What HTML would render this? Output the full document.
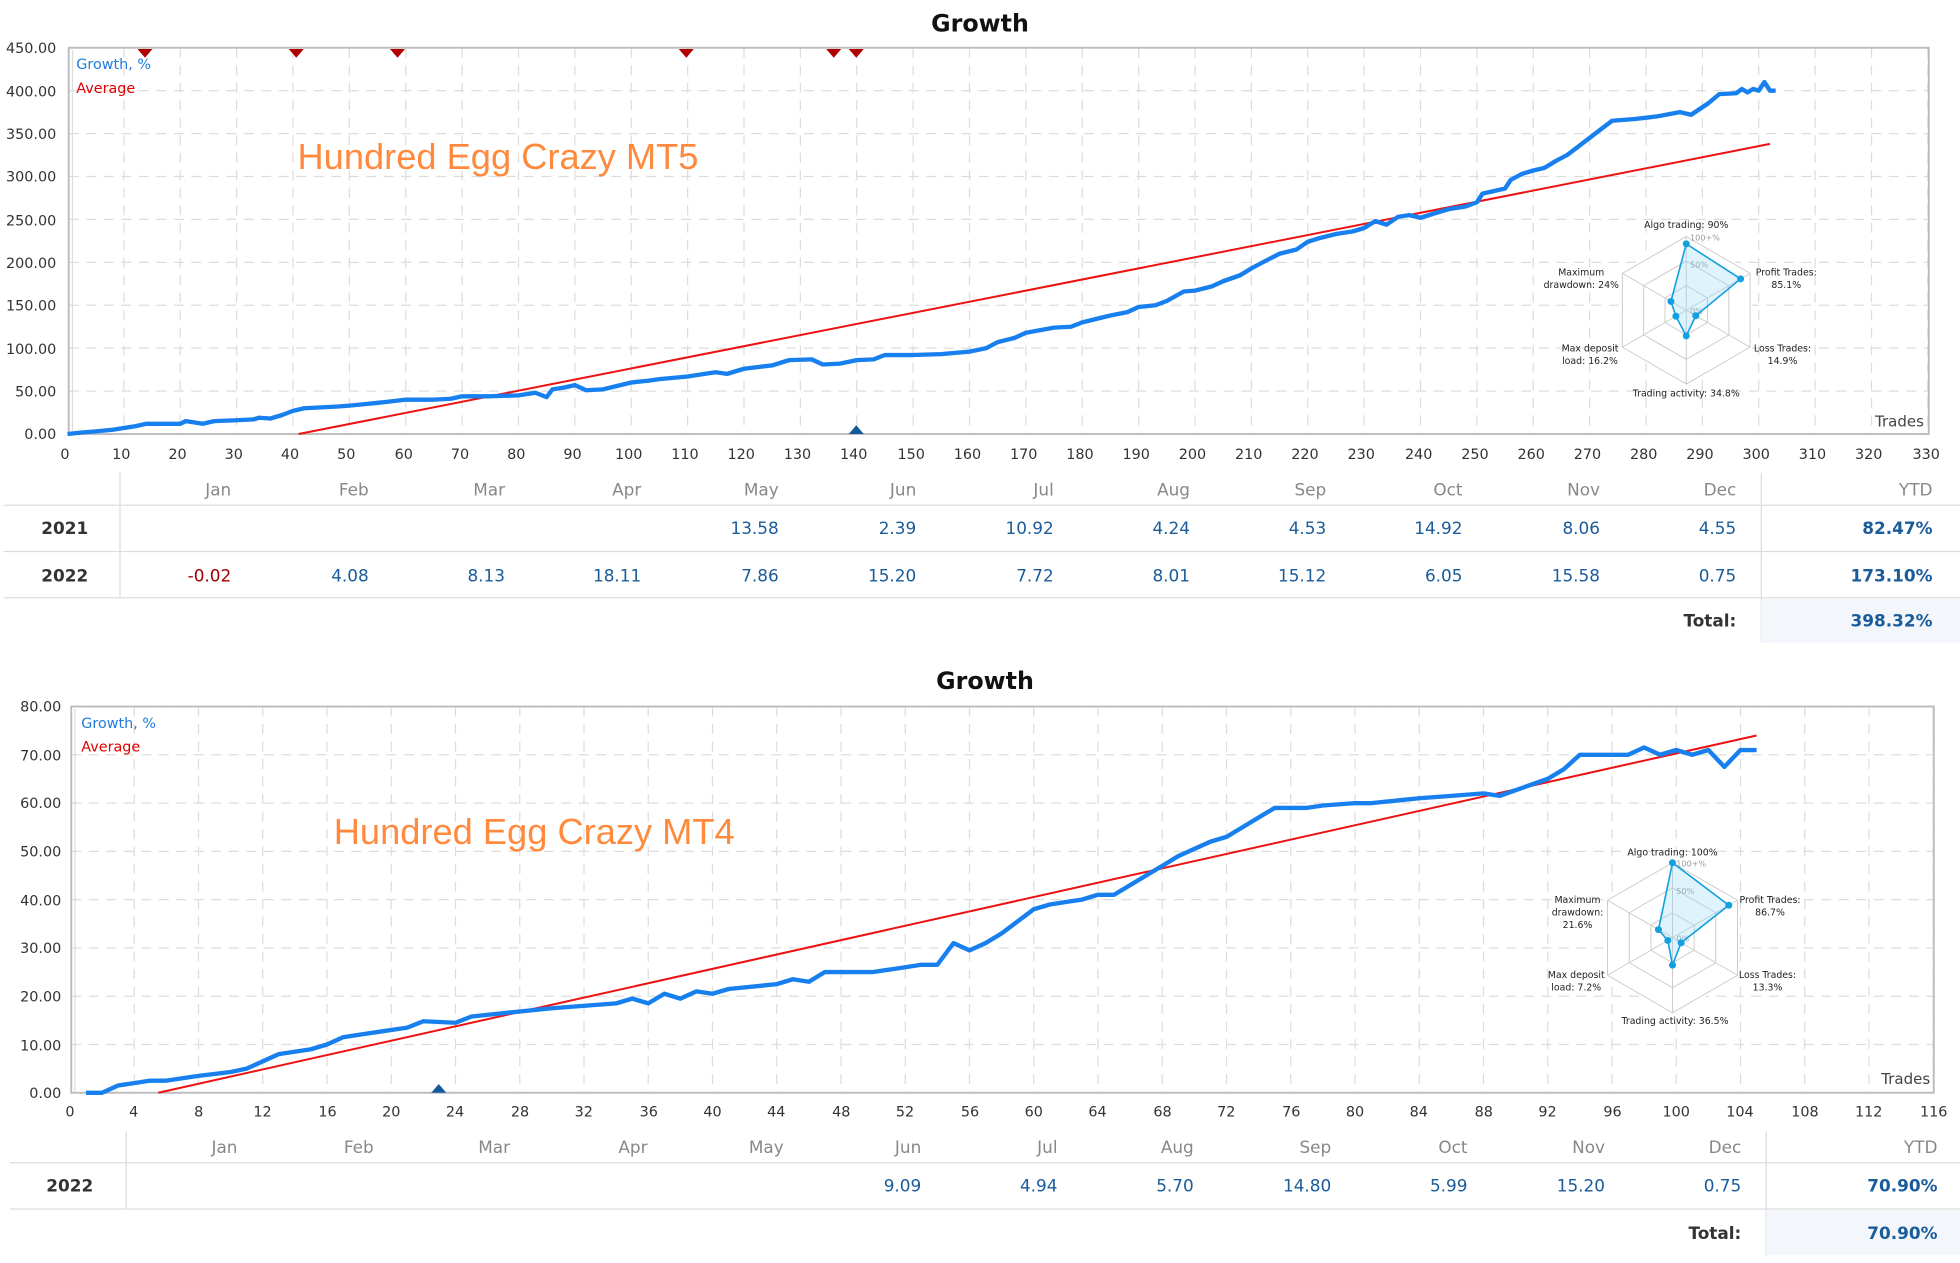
<!DOCTYPE html>
<html><head><meta charset="utf-8"><style>
html,body{margin:0;padding:0;background:#fff;}
svg{display:block}
text{font-family:"DejaVu Sans","Liberation Sans",sans-serif;}
.tk{font-size:11.5px;fill:#333;}
.yl{font-size:11.5px;fill:#333;text-anchor:end;}
.xl{font-size:11.5px;fill:#333;text-anchor:middle;}
.ttl{font-size:19px;font-weight:bold;fill:#111;text-anchor:middle;}
.mh{font-size:13.5px;fill:#888;text-anchor:end;}
.v{font-size:13.5px;fill:#1a5c9a;text-anchor:end;}
.vr{font-size:13.5px;fill:#a00000;text-anchor:end;}
.yr{font-size:13.5px;font-weight:bold;fill:#333;}
.yb{font-size:13.5px;font-weight:bold;fill:#1a5c9a;text-anchor:end;}
.rl{font-size:7.5px;fill:#222;text-anchor:middle;}
.big{font-size:29px;fill:#ff8a3d;font-family:"Liberation Sans",sans-serif;}
</style></head><body>
<svg id="s" width="1960" height="1263" viewBox="0 0 1568 1010" xmlns="http://www.w3.org/2000/svg">
<g id="g1"></g>
<!-- Chart 1 -->
<text class="ttl" x="784" y="25">Growth</text>
<g>
<text class="yl" x="45" y="42">450.00</text>
<text class="yl" x="45" y="77">400.00</text>
<text class="yl" x="45" y="111">350.00</text>
<text class="yl" x="45" y="145">300.00</text>
<text class="yl" x="45" y="180">250.00</text>
<text class="yl" x="45" y="214">200.00</text>
<text class="yl" x="45" y="248">150.00</text>
<text class="yl" x="45" y="283">100.00</text>
<text class="yl" x="45" y="317">50.00</text>
<text class="yl" x="45" y="351">0.00</text>
</g>
<g>
<text class="xl" x="52" y="367">0</text><text class="xl" x="97" y="367">10</text><text class="xl" x="142" y="367">20</text><text class="xl" x="187" y="367">30</text><text class="xl" x="232" y="367">40</text><text class="xl" x="277" y="367">50</text><text class="xl" x="323" y="367">60</text><text class="xl" x="368" y="367">70</text><text class="xl" x="413" y="367">80</text><text class="xl" x="458" y="367">90</text><text class="xl" x="503" y="367">100</text><text class="xl" x="548" y="367">110</text><text class="xl" x="593" y="367">120</text><text class="xl" x="638" y="367">130</text><text class="xl" x="683" y="367">140</text><text class="xl" x="729" y="367">150</text><text class="xl" x="774" y="367">160</text><text class="xl" x="819" y="367">170</text><text class="xl" x="864" y="367">180</text><text class="xl" x="909" y="367">190</text><text class="xl" x="954" y="367">200</text><text class="xl" x="999" y="367">210</text><text class="xl" x="1044" y="367">220</text><text class="xl" x="1089" y="367">230</text><text class="xl" x="1135" y="367">240</text><text class="xl" x="1180" y="367">250</text><text class="xl" x="1225" y="367">260</text><text class="xl" x="1270" y="367">270</text><text class="xl" x="1315" y="367">280</text><text class="xl" x="1360" y="367">290</text><text class="xl" x="1405" y="367">300</text><text class="xl" x="1450" y="367">310</text><text class="xl" x="1495" y="367">320</text><text class="xl" x="1541" y="367">330</text>
</g>
<text x="61" y="55" style="font-size:11.5px;fill:#1e7be0">Growth, %</text>
<text x="61" y="74" style="font-size:11.5px;fill:#e00000">Average</text>
<text class="big" x="238" y="135">Hundred Egg Crazy MT5</text>
<text x="1500" y="341" style="font-size:12px;fill:#444">Trades</text>
<g id="r1"></g>
<text class="rl" x="1349" y="182">Algo trading: 90%</text>
<text class="rl" x="1429" y="220">Profit Trades:</text><text class="rl" x="1429" y="230">85.1%</text>
<text class="rl" x="1426" y="281">Loss Trades:</text><text class="rl" x="1426" y="291">14.9%</text>
<text class="rl" x="1349" y="317">Trading activity: 34.8%</text>
<text class="rl" x="1272" y="281">Max deposit</text><text class="rl" x="1272" y="291">load: 16.2%</text>
<text class="rl" x="1265" y="220">Maximum</text><text class="rl" x="1265" y="230">drawdown: 24%</text>
<!-- Table 1 -->
<line x1="96" y1="378" x2="96" y2="478" stroke="#ddd"/>
<line x1="1409" y1="378" x2="1409" y2="514" stroke="#ddd"/>
<rect x="1409" y="479" width="159" height="35" fill="#f3f6fb"/>
<line x1="3" y1="404" x2="1568" y2="404" stroke="#ddd"/>
<line x1="3" y1="441" x2="1568" y2="441" stroke="#ddd"/>
<line x1="3" y1="478" x2="1568" y2="478" stroke="#ddd"/>
<g>
<text class="mh" x="185" y="396">Jan</text><text class="mh" x="295" y="396">Feb</text><text class="mh" x="404" y="396">Mar</text><text class="mh" x="513" y="396">Apr</text><text class="mh" x="623" y="396">May</text><text class="mh" x="733" y="396">Jun</text><text class="mh" x="843" y="396">Jul</text><text class="mh" x="952" y="396">Aug</text><text class="mh" x="1061" y="396">Sep</text><text class="mh" x="1170" y="396">Oct</text><text class="mh" x="1280" y="396">Nov</text><text class="mh" x="1389" y="396">Dec</text><text class="mh" x="1546" y="396">YTD</text>
<text class="yr" x="33" y="427">2021</text>
<text class="v" x="623" y="427">13.58</text><text class="v" x="733" y="427">2.39</text><text class="v" x="843" y="427">10.92</text><text class="v" x="952" y="427">4.24</text><text class="v" x="1061" y="427">4.53</text><text class="v" x="1170" y="427">14.92</text><text class="v" x="1280" y="427">8.06</text><text class="v" x="1389" y="427">4.55</text><text class="yb" x="1546" y="427">82.47%</text>
<text class="yr" x="33" y="465">2022</text>
<text class="vr" x="185" y="465">-0.02</text><text class="v" x="295" y="465">4.08</text><text class="v" x="404" y="465">8.13</text><text class="v" x="513" y="465">18.11</text><text class="v" x="623" y="465">7.86</text><text class="v" x="733" y="465">15.20</text><text class="v" x="843" y="465">7.72</text><text class="v" x="952" y="465">8.01</text><text class="v" x="1061" y="465">15.12</text><text class="v" x="1170" y="465">6.05</text><text class="v" x="1280" y="465">15.58</text><text class="v" x="1389" y="465">0.75</text><text class="yb" x="1546" y="465">173.10%</text>
<text class="yr" x="1389" y="501" style="text-anchor:end">Total:</text><text class="yb" x="1546" y="501">398.32%</text>
</g>
<!-- Chart 2 -->
<text class="ttl" x="788" y="551">Growth</text>
<g>
<text class="yl" x="49" y="569">80.00</text>
<text class="yl" x="49" y="608">70.00</text>
<text class="yl" x="49" y="646">60.00</text>
<text class="yl" x="49" y="685">50.00</text>
<text class="yl" x="49" y="724">40.00</text>
<text class="yl" x="49" y="762">30.00</text>
<text class="yl" x="49" y="801">20.00</text>
<text class="yl" x="49" y="840">10.00</text>
<text class="yl" x="49" y="878">0.00</text>
</g>
<g>
<text class="xl" x="56" y="893">0</text><text class="xl" x="107" y="893">4</text><text class="xl" x="159" y="893">8</text><text class="xl" x="210" y="893">12</text><text class="xl" x="262" y="893">16</text><text class="xl" x="313" y="893">20</text><text class="xl" x="364" y="893">24</text><text class="xl" x="416" y="893">28</text><text class="xl" x="467" y="893">32</text><text class="xl" x="519" y="893">36</text><text class="xl" x="570" y="893">40</text><text class="xl" x="621" y="893">44</text><text class="xl" x="673" y="893">48</text><text class="xl" x="724" y="893">52</text><text class="xl" x="776" y="893">56</text><text class="xl" x="827" y="893">60</text><text class="xl" x="878" y="893">64</text><text class="xl" x="930" y="893">68</text><text class="xl" x="981" y="893">72</text><text class="xl" x="1033" y="893">76</text><text class="xl" x="1084" y="893">80</text><text class="xl" x="1135" y="893">84</text><text class="xl" x="1187" y="893">88</text><text class="xl" x="1238" y="893">92</text><text class="xl" x="1290" y="893">96</text><text class="xl" x="1341" y="893">100</text><text class="xl" x="1392" y="893">104</text><text class="xl" x="1444" y="893">108</text><text class="xl" x="1495" y="893">112</text><text class="xl" x="1547" y="893">116</text>
</g>
<text x="65" y="582" style="font-size:11.5px;fill:#1e7be0">Growth, %</text>
<text x="65" y="601" style="font-size:11.5px;fill:#e00000">Average</text>
<text class="big" x="267" y="675">Hundred Egg Crazy MT4</text>
<text x="1505" y="867" style="font-size:12px;fill:#444">Trades</text>
<g id="r2"></g>
<text class="rl" x="1338" y="684">Algo trading: 100%</text>
<text class="rl" x="1416" y="722">Profit Trades:</text><text class="rl" x="1416" y="732">86.7%</text>
<text class="rl" x="1414" y="782">Loss Trades:</text><text class="rl" x="1414" y="792">13.3%</text>
<text class="rl" x="1340" y="819">Trading activity: 36.5%</text>
<text class="rl" x="1261" y="782">Max deposit</text><text class="rl" x="1261" y="792">load: 7.2%</text>
<text class="rl" x="1262" y="722">Maximum</text><text class="rl" x="1262" y="732">drawdown:</text><text class="rl" x="1262" y="742">21.6%</text>
<!-- Table 2 -->
<line x1="101" y1="905" x2="101" y2="967" stroke="#ddd"/>
<line x1="1413" y1="905" x2="1413" y2="1004" stroke="#ddd"/>
<rect x="1413" y="968" width="155" height="36" fill="#f3f6fb"/>
<line x1="8" y1="930" x2="1568" y2="930" stroke="#ddd"/>
<line x1="8" y1="967" x2="1568" y2="967" stroke="#ddd"/>
<g>
<text class="mh" x="190" y="922">Jan</text><text class="mh" x="299" y="922">Feb</text><text class="mh" x="408" y="922">Mar</text><text class="mh" x="518" y="922">Apr</text><text class="mh" x="627" y="922">May</text><text class="mh" x="737" y="922">Jun</text><text class="mh" x="846" y="922">Jul</text><text class="mh" x="955" y="922">Aug</text><text class="mh" x="1065" y="922">Sep</text><text class="mh" x="1174" y="922">Oct</text><text class="mh" x="1284" y="922">Nov</text><text class="mh" x="1393" y="922">Dec</text><text class="mh" x="1550" y="922">YTD</text>
<text class="yr" x="37" y="953">2022</text>
<text class="v" x="737" y="953">9.09</text><text class="v" x="846" y="953">4.94</text><text class="v" x="955" y="953">5.70</text><text class="v" x="1065" y="953">14.80</text><text class="v" x="1174" y="953">5.99</text><text class="v" x="1284" y="953">15.20</text><text class="v" x="1393" y="953">0.75</text><text class="yb" x="1550" y="953">70.90%</text>
<text class="yr" x="1393" y="991" style="text-anchor:end">Total:</text><text class="yb" x="1550" y="991">70.90%</text>
</g>
</svg>
<script>
var NS="http://www.w3.org/2000/svg";
function el(p,t,a){var e=document.createElementNS(NS,t);for(var k in a)e.setAttribute(k,a[k]);p.appendChild(e);return e;}
var svg=document.getElementById('s');
function chart(o){
  var g=el(svg,'g',{});
  svg.insertBefore(g,svg.firstChild);
  var X=function(v){return o.x0+v*o.sx}, Y=function(v){return o.y0-v*o.sy};
  for(var v=o.xs;v<=o.xmax;v+=o.xs){el(g,'line',{x1:X(v),x2:X(v),y1:o.top,y2:o.y0,stroke:'#ddd','stroke-dasharray':'8,6'});}
  for(var v=o.ys;v<=o.ymax;v+=o.ys){el(g,'line',{x1:o.left,x2:o.right,y1:Y(v),y2:Y(v),stroke:'#ddd','stroke-dasharray':'8,6'});}
  el(g,'rect',{x:o.left,y:o.top,width:o.right-o.left,height:o.y0-o.top,fill:'none',stroke:'#bbb','stroke-width':1.5});
  el(g,'line',{x1:o.left+3,x2:o.left+3,y1:o.top+2,y2:o.y0,stroke:'#ddd'});
  var a=o.avg;el(g,'line',{x1:X(a[0]),y1:Y(a[1]),x2:X(a[2]),y2:Y(a[3]),stroke:'#ee1111','stroke-width':1.6});
  var pts=o.d.map(function(p){return X(p[0]).toFixed(1)+','+Y(p[1]).toFixed(1)}).join(' ');
  el(g,'polyline',{points:pts,fill:'none',stroke:'#1780ee','stroke-width':3.5,'stroke-linejoin':'round'});
  (o.down||[]).forEach(function(x){el(g,'path',{d:'M'+(x-6)+','+(o.top+1)+'h12l-6,7z',fill:'#b00000'})});
  (o.up||[]).forEach(function(x){el(g,'path',{d:'M'+(x-6)+','+o.y0+'h12l-6,-7z',fill:'#145a9a'})});
  var rg=document.getElementById(o.rid);var cx=o.rc[0],cy=o.rc[1],R=o.rc[2];
  var ang=[-90,-30,30,90,150,210];
  function hp(r){return ang.map(function(d){var t=d*Math.PI/180;return (cx+r*Math.cos(t)).toFixed(1)+','+(cy+r*Math.sin(t)).toFixed(1)}).join(' ')}
  el(rg,'polygon',{points:hp(R+2),fill:'#fff',stroke:'none'});
  [R,R*2/3,R/3].forEach(function(r){el(rg,'polygon',{points:hp(r),fill:'none',stroke:'#ccc','stroke-width':0.8})});
  ang.forEach(function(d){var t=d*Math.PI/180;el(rg,'line',{x1:cx,y1:cy,x2:cx+R*Math.cos(t),y2:cy+R*Math.sin(t),stroke:'#ccc','stroke-width':0.8})});
  [['100+%',-R+3],['50%',-R/3*2+5],['0%',3]].forEach(function(l){var t=el(rg,'text',{x:cx+3,y:cy+l[1],style:'font-size:6.5px;fill:#999'});t.textContent=l[0];});
  var vp=o.rv.map(function(v,i){var t=ang[i]*Math.PI/180;return [cx+R*v*Math.cos(t),cy+R*v*Math.sin(t)]});
  el(rg,'polygon',{points:vp.map(function(p){return p.join(',')}).join(' '),fill:'rgba(150,215,245,0.3)',stroke:'#12a0e0','stroke-width':1.3});
  vp.forEach(function(p){el(rg,'circle',{cx:p[0],cy:p[1],r:2.8,fill:'#12a0e0'})});
}
chart({x0:54,sx:4.51,y0:347,sy:309/450,top:38,left:55,right:1543,xs:10,xmax:330,ys:50,ymax:450,
 avg:[41,0,302,338],rid:'r1',rc:[1349,248,59],rv:[0.9,0.851,0.149,0.348,0.162,0.24],
 down:[116,237,318,549,667,685],up:[685],
 d:[[0,0],[3,2],[5,3],[8,5],[10,7],[12,9],[14,12],[20,12],[21,15],[24,12],[26,15],[30,16],[33,17],[34,19],[36,18],[38,22],[40,27],[42,30],[45,31],[48,32],[50,33],[53,35],[56,37],[60,40],[65,40],[68,41],[70,44],[75,44],[80,45],[83,48],[85,43],[86,52],[88,54],[90,57],[92,51],[95,52],[100,60],[103,62],[105,64],[110,67],[113,70],[115,72],[117,70],[120,76],[125,80],[128,86],[132,87],[134,81],[137,82],[140,86],[143,87],[145,92],[150,92],[155,93],[160,96],[163,100],[165,107],[168,112],[170,118],[175,124],[178,125],[180,130],[185,138],[188,142],[190,148],[193,150],[195,155],[198,166],[200,167],[203,172],[205,178],[208,185],[210,193],[212,200],[215,210],[218,215],[220,224],[222,228],[225,233],[228,236],[230,240],[232,248],[234,244],[236,253],[238,255],[240,252],[243,258],[245,262],[248,265],[250,270],[251,280],[253,283],[255,286],[256,296],[258,303],[260,307],[262,310],[264,318],[266,325],[268,335],[270,345],[272,355],[274,365],[278,367],[282,370],[286,375],[288,372],[291,385],[293,396],[296,397],[297,402],[298,398],[299,402],[300,400],[301,410],[302,400],[303,400]]});
chart({x0:56,sx:12.85,y0:874,sy:3.8625,top:565,left:57,right:1547,xs:4,xmax:116,ys:10,ymax:80,
 avg:[5.5,0,105,74],rid:'r2',rc:[1338,750,60],rv:[1,0.867,0.133,0.365,0.072,0.216],
 down:[],up:[351],
 d:[[1,0],[2,0],[3,1.5],[5,2.5],[6,2.5],[8,3.5],[10,4.3],[11,5],[13,8],[15,9],[16,10],[17,11.5],[18,12],[20,13],[21,13.5],[22,14.8],[24,14.5],[25,15.8],[27,16.5],[30,17.5],[34,18.5],[35,19.5],[36,18.5],[37,20.5],[38,19.5],[39,21],[40,20.5],[41,21.5],[44,22.5],[45,23.5],[46,23],[47,25],[50,25],[52,26],[53,26.5],[54,26.5],[55,31],[56,29.5],[57,31],[58,33],[60,38],[61,39],[62,39.5],[63,40],[64,41],[65,41],[66,43],[67,45],[68,47],[69,49],[70,50.5],[71,52],[72,53],[73,55],[74,57],[75,59],[77,59],[78,59.5],[80,60],[81,60],[84,61],[86,61.5],[88,62],[89,61.5],[92,65],[93,67],[94,70],[97,70],[98,71.5],[99,70],[100,71],[101,70],[102,71],[103,67.5],[104,71],[105,71]]});
</script>
</body></html>
